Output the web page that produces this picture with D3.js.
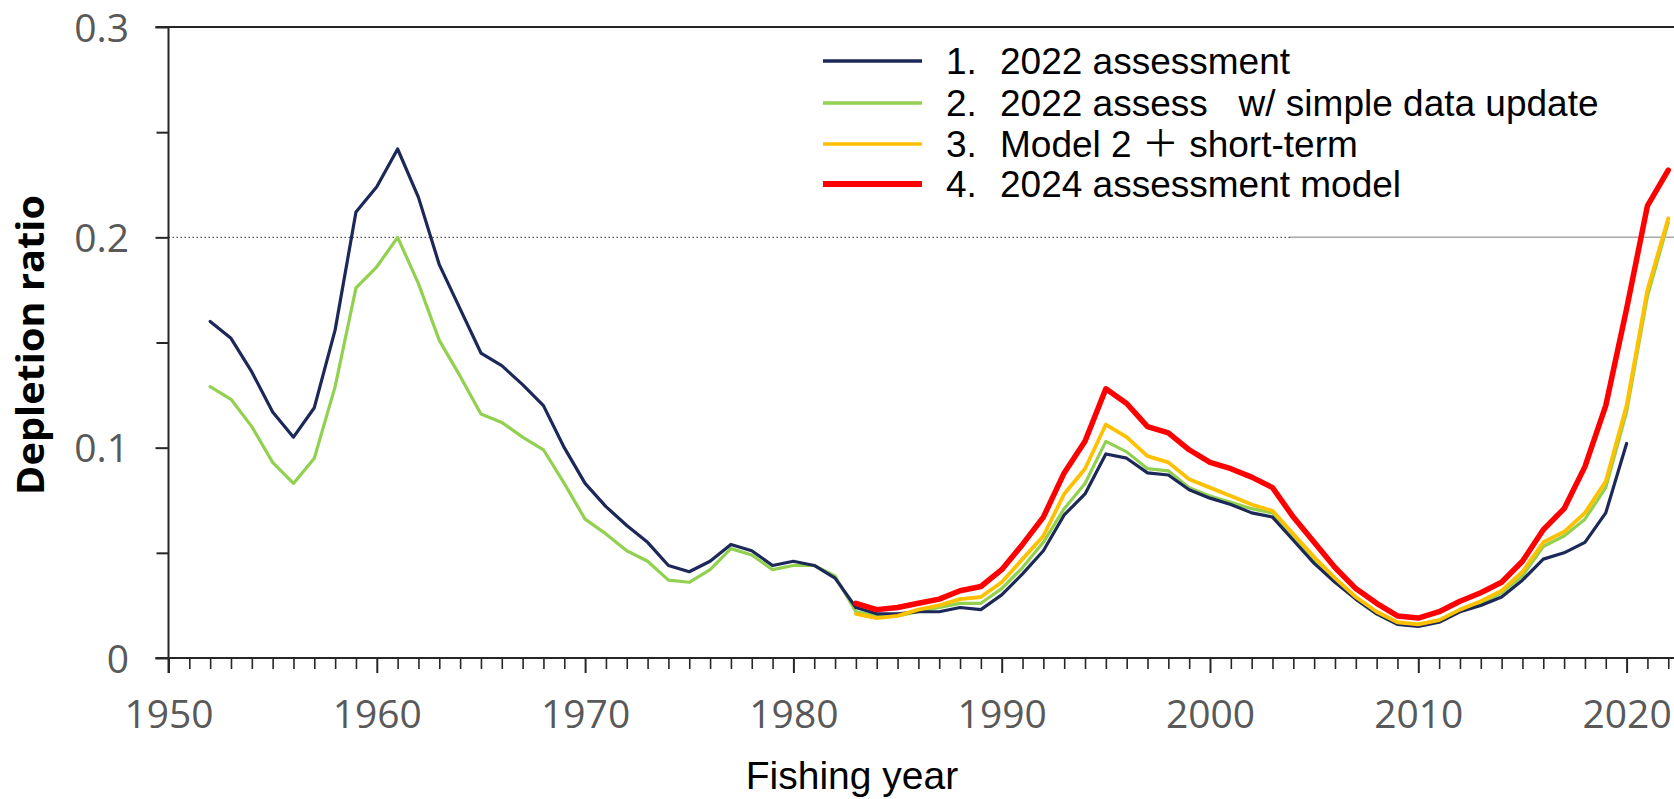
<!DOCTYPE html>
<html>
<head>
<meta charset="utf-8">
<script src="https://cdn.jsdelivr.net/npm/d3@7"></script>
<style>
  html, body { margin: 0; padding: 0; background: #fff; }
  svg { display: block; }
</style>
</head>
<body>
<svg id="chart" width="1674" height="799"></svg>
<script>
// ---------------- data ----------------
const yearsBlue = d3.range(1952, 2021);
const blue2022 = [0.160,0.152,0.136,0.117,0.105,0.119,0.156,0.212,0.224,0.242,
  0.219,0.187,0.166,0.145,0.139,0.130,0.120,0.100,0.083,0.072,
  0.063,0.055,0.044,0.041,0.046,0.054,0.051,0.044,0.046,0.044,
  0.038,0.024,0.021,0.021,0.022,0.022,0.024,0.023,0.030,0.040,
  0.051,0.068,0.078,0.097,0.095,0.088,0.087,0.080,0.076,0.073,
  0.069,0.067,0.056,0.045,0.036,0.028,0.021,0.016,0.015,0.017,
  0.022,0.025,0.029,0.037,0.047,0.050,0.055,0.069,0.102];

const yearsGreen = d3.range(1952, 2023);
const greenUpdate = [0.129,0.123,0.110,0.093,0.083,0.095,0.129,0.176,0.186,0.200,
  0.178,0.151,0.134,0.116,0.112,0.105,0.099,0.083,0.066,0.059,
  0.051,0.046,0.037,0.036,0.042,0.052,0.049,0.042,0.044,0.044,
  0.039,0.022,0.020,0.020,0.022,0.024,0.026,0.026,0.033,0.043,
  0.055,0.071,0.083,0.103,0.098,0.090,0.089,0.081,0.077,0.074,
  0.071,0.069,0.057,0.046,0.037,0.028,0.021,0.016,0.016,0.018,
  0.023,0.026,0.031,0.039,0.053,0.058,0.066,0.081,0.117,0.172,0.207];

const yearsRecent = d3.range(1983, 2023);
const yellowShort = [0.021,0.019,0.020,0.023,0.025,0.028,0.029,0.036,0.047,0.058,
  0.078,0.090,0.111,0.105,0.096,0.093,0.085,0.081,0.077,0.073,
  0.070,0.059,0.048,0.038,0.029,0.022,0.017,0.016,0.018,0.023,
  0.027,0.032,0.041,0.055,0.060,0.069,0.084,0.120,0.175,0.209];
const red2024 = [0.026,0.023,0.024,0.026,0.028,0.032,0.034,0.042,0.054,0.067,
  0.088,0.103,0.128,0.121,0.110,0.107,0.099,0.093,0.090,0.086,
  0.081,0.067,0.055,0.043,0.033,0.026,0.020,0.019,0.022,0.027,
  0.031,0.036,0.046,0.061,0.071,0.091,0.120,0.166,0.215,0.232];

const yTickLabels = [0, 0.1, 0.2, 0.3];
const yMinorTicks = [0.05, 0.15, 0.25];
const xTickLabels = [1950, 1960, 1970, 1980, 1990, 2000, 2010, 2020];
const legendLabels = [
  ["1.", "2022 assessment"],
  ["2.", "2022 assess   w/ simple data update"],
  ["3.", "Model 2 \uFF0B short-term"],
  ["4.", "2024 assessment model"]
];
const referenceLevel = 0.2;

// ---------------- layout ----------------
const svg = d3.select("#chart");
const W = 1674, H = 799;
const x0 = 168.5, pxPerYear = 20.83;
const x = d3.scaleLinear().domain([1950, 2025]).range([x0, x0 + 75 * pxPerYear]);
const y = d3.scaleLinear().domain([0, 0.3]).range([658, 27]);

const axisColor = "#262626";
const tickFont = "'Open Sans', 'DejaVu Sans', sans-serif";

// reference line 0.2
svg.append("line")
  .attr("x1", x0).attr("x2", 1290)
  .attr("y1", y(referenceLevel)).attr("y2", y(referenceLevel))
  .attr("stroke", "#555").attr("stroke-width", 1.3)
  .attr("stroke-dasharray", "1.5,2.5");
svg.append("line")
  .attr("x1", 1290).attr("x2", W)
  .attr("y1", y(referenceLevel)).attr("y2", y(referenceLevel))
  .attr("stroke", "#a8a8a8").attr("stroke-width", 1.5);

// top border
svg.append("line")
  .attr("x1", x0 - 13).attr("x2", W)
  .attr("y1", y(0.3)).attr("y2", y(0.3))
  .attr("stroke", axisColor).attr("stroke-width", 2);

// x axis: minor ticks
const minorYears = d3.range(1950, 2025).filter(d => d % 10 !== 0);
const xMinor = svg.append("g").attr("transform", `translate(0,${y(0)})`)
  .call(d3.axisBottom(x).tickValues(minorYears).tickSize(11).tickFormat(""));
xMinor.select(".domain").remove();
xMinor.selectAll("line").attr("stroke", axisColor).attr("stroke-width", 1.6);

const xMajor = svg.append("g").attr("transform", `translate(0,${y(0)})`)
  .call(d3.axisBottom(x).tickValues(xTickLabels).tickSize(15).tickFormat(d3.format("d")));
xMajor.select(".domain").remove();
xMajor.selectAll("line").attr("stroke", axisColor).attr("stroke-width", 2);
xMajor.selectAll("text")
  .attr("y", 70).attr("dy", 0)
  .attr("fill", "#595959")
  .style("font-family", tickFont).style("font-size", "39px");

// x axis line
svg.append("line")
  .attr("x1", x0 - 13).attr("x2", W)
  .attr("y1", y(0)).attr("y2", y(0))
  .attr("stroke", axisColor).attr("stroke-width", 2);

// y axis
const yMinor = svg.append("g").attr("transform", `translate(${x0},0)`)
  .call(d3.axisLeft(y).tickValues(yMinorTicks).tickSize(12).tickFormat(""));
yMinor.select(".domain").remove();
yMinor.selectAll("line").attr("stroke", axisColor).attr("stroke-width", 2);

const yMajor = svg.append("g").attr("transform", `translate(${x0},0)`)
  .call(d3.axisLeft(y).tickValues(yTickLabels).tickSize(13)
    .tickFormat(d => d === 0 ? "0" : d3.format(".1f")(d)));
yMajor.select(".domain").remove();
yMajor.selectAll("line").attr("stroke", axisColor).attr("stroke-width", 2);
yMajor.selectAll("text")
  .attr("x", -39.5).attr("dy", "0.36em")
  .attr("fill", "#595959")
  .style("font-family", tickFont).style("font-size", "39px");

svg.append("line")
  .attr("x1", x0).attr("x2", x0)
  .attr("y1", y(0.3)).attr("y2", y(0) + 15)
  .attr("stroke", axisColor).attr("stroke-width", 2);

// axis titles
svg.append("text")
  .attr("transform", `translate(44,345) rotate(-90)`)
  .attr("text-anchor", "middle")
  .attr("textLength", 300).attr("lengthAdjust", "spacingAndGlyphs")
  .style("font-family", tickFont).style("font-weight", "bold").style("font-size", "37px")
  .attr("fill", "#000")
  .text("Depletion ratio");

svg.append("text")
  .attr("x", 852).attr("y", 789)
  .attr("text-anchor", "middle")
  .style("font-family", "'Liberation Sans', Arial, sans-serif").style("font-size", "39px")
  .attr("fill", "#000")
  .text("Fishing year");

// ---------------- lines ----------------
const line = d3.line().x(d => x(d[0])).y(d => y(d[1]));
const series = [
  { name: "green",  years: yearsGreen,  vals: greenUpdate, color: "#92d050", width: 3.2 },
  { name: "blue",   years: yearsBlue,   vals: blue2022,    color: "#1b2858", width: 3.2 },
  { name: "yellow", years: yearsRecent, vals: yellowShort, color: "#ffc000", width: 3.8 },
  { name: "red",    years: yearsRecent, vals: red2024,     color: "#ff0000", width: 5.5 }
];
series.forEach(s => {
  svg.append("path")
    .datum(s.years.map((yr, i) => [yr, s.vals[i]]))
    .attr("d", line)
    .attr("fill", "none")
    .attr("stroke", s.color)
    .attr("stroke-width", s.width)
    .attr("stroke-linejoin", "round")
    .attr("stroke-linecap", "round");
});

// ---------------- legend ----------------
const legendColors = ["#1b2858", "#92d050", "#ffc000", "#ff0000"];
const legendWidths = [3.5, 3.5, 3.5, 6];
const legendY = [61, 103, 144, 184];
const lg = svg.append("g");
legendLabels.forEach((lab, i) => {
  lg.append("line")
    .attr("x1", 823).attr("x2", 922)
    .attr("y1", legendY[i]).attr("y2", legendY[i])
    .attr("stroke", legendColors[i]).attr("stroke-width", legendWidths[i]);
  lg.append("text")
    .attr("x", 946).attr("y", legendY[i]).attr("dy", "0.36em")
    .style("font-family", "'Liberation Sans', Arial, sans-serif").style("font-size", "37px")
    .attr("fill", "#000")
    .text(lab[0]);
  lg.append("text")
    .attr("x", 1000).attr("y", legendY[i]).attr("dy", "0.36em")
    .style("font-family", "'Liberation Sans', Arial, 'Noto Sans CJK JP', sans-serif").style("font-size", "37px")
    .style("white-space", "pre")
    .attr("xml:space", "preserve")
    .attr("fill", "#000")
    .text(lab[1]);
});
</script>
</body>
</html>
